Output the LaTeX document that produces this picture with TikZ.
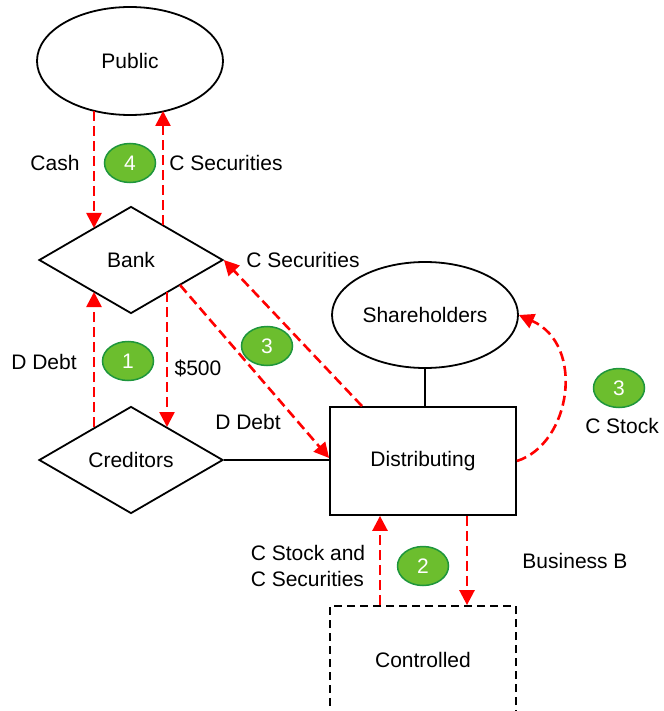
\documentclass[tikz,border=0pt]{standalone}
\usepackage{fontspec}
\setmainfont{Liberation Sans}
\usetikzlibrary{shapes.geometric,arrows.meta,calc}
\definecolor{badgefill}{RGB}{108,190,46}
\definecolor{badgeedge}{RGB}{30,150,60}
\definecolor{flowred}{RGB}{255,0,0}
\begin{document}
\begin{tikzpicture}[x=1pt,y=-1pt,
  every node/.style={font=\fontsize{21}{26}\selectfont},
  ent/.style={draw, line width=1.8pt, inner sep=0pt, minimum width=186pt, minimum height=108pt},
  oval/.style={ent, ellipse},
  rhomb/.style={ent, diamond, minimum width=184pt, minimum height=107pt},
  box/.style={ent, rectangle},
  flow/.style={draw=flowred, line width=2.6pt, dash pattern=on 10pt off 5pt,
    -{Triangle[width=15pt,length=15pt]}},
  link/.style={draw, line width=1.8pt},
  badge/.style={ellipse, draw=badgeedge, fill=badgefill, line width=1.5pt,
    minimum width=51pt, minimum height=39pt, inner sep=0pt, text=white},
  lbl/.style={inner sep=0pt}
]
\useasboundingbox (0,0) rectangle (663,711);
\clip (0,0) rectangle (663,711);

% parties
\node[oval]  (Public)       at (130,61)  {Public};
\node[rhomb] (Bank)         at (131,260) {Bank};
\node[rhomb] (Creditors)    at (131,460) {Creditors};
\node[oval, minimum height=106pt] (Shareholders) at (425,315) {Shareholders};
\node[box]   (Distributing) at (423,461) {Distributing};
\node[box, dash pattern=on 8pt off 5pt] (Controlled) at (423,660) {Controlled};

% ownership and debt ties
\draw[link] (Creditors.east) -- (Creditors.east -| Distributing.west);
\draw[link] (Shareholders.south) -- (Shareholders.south |- Distributing.north);

% transfers
\draw[flow] ($(Public.center)+(-36,50)$) -- ($(Bank.center)+(-37,-32)$);
\draw[flow] ($(Bank.center)+(32,-35)$) -- ($(Public.center)+(33,50)$);
\draw[flow] ($(Creditors.center)+(-37,-33)$) -- ($(Bank.center)+(-37,32)$);
\draw[flow] ($(Bank.center)+(36,32)$) -- ($(Creditors.center)+(36,-33)$);
\draw[flow] ($(Bank.center)+(49,25)$) -- ($(Distributing.west)+(0,-3)$);
\draw[flow] ($(Distributing.north)+(-61,0)$) -- (Bank.east);
\draw[flow] (Distributing.east) .. controls ($(Distributing.east)+(54,-17)$) and ($(Shareholders.east)+(67,30)$) .. (Shareholders.east);
\draw[flow] ($(Controlled.north)+(-43,0)$) -- ($(Distributing.south)+(-43,0)$);
\draw[flow] ($(Distributing.south)+(44,0)$) -- ($(Controlled.north)+(44,0)$);

% step badges
\node[badge] (s4)  at (130,163) {4};
\node[badge] (s1)  at (128,361) {1};
\node[badge] (s3a) at (267,346) {3};
\node[badge] (s3b) at (619,388) {3};
\node[badge] (s2)  at (423,566) {2};

% labels
\node[lbl] (lCash)   at (55,163)  {Cash};
\node[lbl] (lCSec1)  at (226,163) {C Securities};
\node[lbl] (lCSec2)  at (303,260) {C Securities};
\node[lbl] (lDDebt1) at (44,362)  {D Debt};
\node[lbl] (l500)    at (198,368) {\$500};
\node[lbl] (lDDebt2) at (248,422) {D Debt};
\node[lbl] (lCStock) at (622,426) {C Stock};
\node[lbl, align=left] (lCStockSec) at (308,566) {C Stock and\\C Securities};
\node[lbl] (lBusB)   at (575,561) {Business B};
\end{tikzpicture}
\end{document}
